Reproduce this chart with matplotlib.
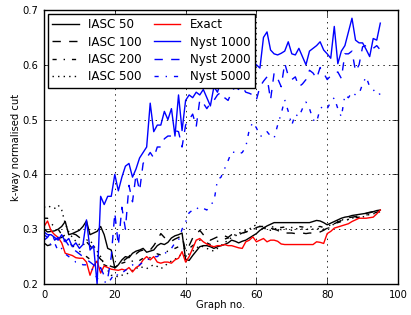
import numpy as np
import matplotlib
matplotlib.use("Agg")
import matplotlib.pyplot as plt

graph_no = list(range(96))

iasc_50 = [0.300, 0.295, 0.296, 0.297, 0.300, 0.305, 0.314, 0.290, 0.292, 0.295,
           0.298, 0.305, 0.315, 0.290, 0.293, 0.296, 0.305, 0.290, 0.265, 0.262,
           0.229, 0.235, 0.244, 0.250, 0.248, 0.256, 0.260, 0.262, 0.265, 0.258,
           0.260, 0.262, 0.270, 0.274, 0.272, 0.276, 0.284, 0.288, 0.290, 0.293,
           0.245, 0.243, 0.252, 0.260, 0.268, 0.270, 0.270, 0.268, 0.265, 0.268,
           0.270, 0.272, 0.275, 0.280, 0.278, 0.275, 0.278, 0.280, 0.284, 0.288,
           0.292, 0.298, 0.302, 0.306, 0.309, 0.312, 0.312, 0.312, 0.312, 0.312,
           0.312, 0.312, 0.312, 0.312, 0.312, 0.312, 0.314, 0.316, 0.315, 0.312,
           0.308, 0.311, 0.314, 0.317, 0.320, 0.322, 0.323, 0.325, 0.326, 0.327,
           0.328, 0.329, 0.331, 0.332, 0.334, 0.335]

iasc_100 = [0.275, 0.270, 0.272, 0.278, 0.283, 0.285, 0.290, 0.290, 0.292, 0.290,
            0.285, 0.280, 0.277, 0.270, 0.262, 0.253, 0.245, 0.240, 0.235, 0.232,
            0.230, 0.235, 0.240, 0.245, 0.250, 0.259, 0.255, 0.260, 0.262, 0.265,
            0.262, 0.270, 0.280, 0.292, 0.285, 0.280, 0.278, 0.282, 0.285, 0.288,
            0.260, 0.270, 0.284, 0.290, 0.298, 0.290, 0.282, 0.280, 0.283, 0.286,
            0.290, 0.288, 0.285, 0.290, 0.292, 0.290, 0.293, 0.295, 0.297, 0.298,
            0.303, 0.305, 0.305, 0.302, 0.302, 0.300, 0.298, 0.293, 0.293, 0.293,
            0.293, 0.292, 0.293, 0.293, 0.292, 0.293, 0.293, 0.293, 0.295, 0.298,
            0.302, 0.305, 0.310, 0.313, 0.316, 0.320, 0.321, 0.322, 0.323, 0.325,
            0.327, 0.329, 0.330, 0.332, 0.334, 0.335]

iasc_200 = [0.320, 0.320, 0.310, 0.305, 0.300, 0.290, 0.280, 0.275, 0.270, 0.265,
            0.260, 0.255, 0.250, 0.245, 0.242, 0.240, 0.238, 0.235, 0.232, 0.230,
            0.232, 0.235, 0.238, 0.240, 0.238, 0.242, 0.245, 0.243, 0.247, 0.250,
            0.248, 0.252, 0.255, 0.253, 0.257, 0.260, 0.262, 0.265, 0.268, 0.270,
            0.262, 0.265, 0.270, 0.275, 0.280, 0.278, 0.275, 0.272, 0.274, 0.278,
            0.280, 0.282, 0.284, 0.285, 0.288, 0.290, 0.292, 0.295, 0.297, 0.300,
            0.302, 0.300, 0.302, 0.305, 0.303, 0.305, 0.304, 0.303, 0.304, 0.305,
            0.303, 0.304, 0.305, 0.304, 0.303, 0.304, 0.305, 0.304, 0.305, 0.303,
            0.305, 0.308, 0.310, 0.312, 0.314, 0.316, 0.318, 0.320, 0.321, 0.322,
            0.324, 0.326, 0.327, 0.329, 0.331, 0.333]

iasc_500 = [0.340, 0.343, 0.340, 0.338, 0.344, 0.335, 0.310, 0.295, 0.285, 0.278,
            0.272, 0.270, 0.280, 0.280, 0.270, 0.260, 0.250, 0.235, 0.225, 0.216,
            0.215, 0.213, 0.216, 0.218, 0.220, 0.225, 0.228, 0.232, 0.230, 0.228,
            0.232, 0.235, 0.232, 0.228, 0.232, 0.238, 0.242, 0.245, 0.250, 0.255,
            0.250, 0.255, 0.260, 0.265, 0.270, 0.268, 0.265, 0.262, 0.260, 0.265,
            0.270, 0.275, 0.280, 0.285, 0.290, 0.293, 0.295, 0.298, 0.300, 0.305,
            0.308, 0.305, 0.302, 0.300, 0.298, 0.300, 0.302, 0.299, 0.300, 0.301,
            0.298, 0.300, 0.302, 0.300, 0.299, 0.301, 0.300, 0.302, 0.300, 0.300,
            0.300, 0.305, 0.310, 0.315, 0.318, 0.315, 0.318, 0.320, 0.322, 0.320,
            0.322, 0.325, 0.327, 0.328, 0.330, 0.332]

exact = [0.305, 0.315, 0.297, 0.290, 0.285, 0.275, 0.256, 0.254, 0.252, 0.248,
         0.247, 0.247, 0.240, 0.216, 0.233, 0.242, 0.220, 0.233, 0.230, 0.227,
         0.226, 0.225, 0.227, 0.225, 0.230, 0.222, 0.230, 0.234, 0.244, 0.250,
         0.244, 0.250, 0.240, 0.238, 0.240, 0.240, 0.238, 0.244, 0.247, 0.259,
         0.240, 0.250, 0.265, 0.280, 0.283, 0.277, 0.273, 0.270, 0.268, 0.270,
         0.270, 0.272, 0.270, 0.270, 0.268, 0.266, 0.265, 0.277, 0.280, 0.286,
         0.277, 0.280, 0.283, 0.277, 0.280, 0.280, 0.278, 0.273, 0.272, 0.272,
         0.272, 0.272, 0.272, 0.272, 0.272, 0.272, 0.272, 0.277, 0.276, 0.274,
         0.292, 0.296, 0.302, 0.304, 0.306, 0.308, 0.310, 0.314, 0.317, 0.320,
         0.320, 0.320, 0.321, 0.322, 0.328, 0.335]

nyst_1000 = [0.295, 0.290, 0.290, 0.285, 0.280, 0.290, 0.277, 0.283, 0.268, 0.275,
             0.265, 0.272, 0.317, 0.262, 0.270, 0.200, 0.360, 0.345, 0.360, 0.360,
             0.400, 0.370, 0.395, 0.415, 0.420, 0.395, 0.410, 0.430, 0.440, 0.450,
             0.530, 0.478, 0.490, 0.490, 0.515, 0.500, 0.520, 0.470, 0.545, 0.480,
             0.535, 0.545, 0.540, 0.550, 0.545, 0.555, 0.540, 0.525, 0.560, 0.550,
             0.570, 0.560, 0.580, 0.575, 0.590, 0.580, 0.600, 0.610, 0.600, 0.605,
             0.600, 0.594, 0.650, 0.660, 0.627, 0.620, 0.618, 0.621, 0.625, 0.642,
             0.620, 0.618, 0.630, 0.615, 0.600, 0.625, 0.630, 0.635, 0.642, 0.627,
             0.620, 0.612, 0.670, 0.602, 0.625, 0.635, 0.660, 0.685, 0.645, 0.640,
             0.640, 0.628, 0.615, 0.648, 0.645, 0.676]

nyst_2000 = [0.290, 0.285, 0.295, 0.280, 0.285, 0.275, 0.280, 0.270, 0.265, 0.260,
             0.255, 0.250, 0.245, 0.240, 0.235, 0.225, 0.230, 0.215, 0.210, 0.250,
             0.330, 0.270, 0.340, 0.300, 0.380, 0.350, 0.400, 0.370, 0.420, 0.430,
             0.440, 0.430, 0.450, 0.450, 0.465, 0.470, 0.470, 0.480, 0.478, 0.450,
             0.490, 0.500, 0.510, 0.487, 0.536, 0.530, 0.520, 0.530, 0.535, 0.545,
             0.550, 0.540, 0.535, 0.550, 0.560, 0.555, 0.560, 0.550, 0.548, 0.545,
             0.536, 0.560, 0.570, 0.578, 0.536, 0.585, 0.575, 0.560, 0.603, 0.580,
             0.573, 0.578, 0.560, 0.565, 0.573, 0.590, 0.585, 0.575, 0.595, 0.585,
             0.573, 0.580, 0.583, 0.587, 0.575, 0.620, 0.620, 0.625, 0.588, 0.600,
             0.633, 0.635, 0.630, 0.630, 0.635, 0.627]

nyst_5000 = [0.280, 0.285, 0.270, 0.275, 0.260, 0.265, 0.255, 0.250, 0.245, 0.240,
             0.240, 0.235, 0.235, 0.230, 0.225, 0.210, 0.208, 0.205, 0.200, 0.210,
             0.220, 0.215, 0.220, 0.225, 0.230, 0.235, 0.230, 0.235, 0.240, 0.245,
             0.245, 0.250, 0.250, 0.255, 0.255, 0.260, 0.265, 0.275, 0.280, 0.300,
             0.313, 0.330, 0.335, 0.340, 0.335, 0.338, 0.335, 0.345, 0.350, 0.390,
             0.395, 0.410, 0.425, 0.441, 0.440, 0.437, 0.440, 0.450, 0.482, 0.495,
             0.485, 0.470, 0.470, 0.478, 0.470, 0.466, 0.490, 0.511, 0.536, 0.515,
             0.490, 0.510, 0.505, 0.520, 0.532, 0.520, 0.500, 0.495, 0.520, 0.525,
             0.520, 0.532, 0.540, 0.520, 0.505, 0.545, 0.540, 0.550, 0.545, 0.547,
             0.565, 0.578, 0.560, 0.555, 0.545, 0.547]

plt.rcParams['font.family'] = ['DejaVu Sans']
plt.rcParams['lines.dashed_pattern'] = [6, 6]
plt.rcParams['lines.dashdot_pattern'] = [3, 5, 1, 5]
plt.rcParams['lines.dotted_pattern'] = [1, 3]
plt.rcParams['lines.scale_dashes'] = False

fig = plt.figure(figsize=(4.11, 3.15), dpi=100)
ax = fig.add_axes([44 / 411, 1 - 284 / 315, (398 - 44) / 411, (284 - 10) / 315])

lw = 1.0
ax.plot(graph_no, iasc_50, color='k', ls='-', lw=lw, label='IASC 50')
ax.plot(graph_no, iasc_100, color='k', ls='--', lw=lw, label='IASC 100')
ax.plot(graph_no, iasc_200, color='k', ls='-.', lw=lw, label='IASC 200')
ax.plot(graph_no, iasc_500, color='k', ls=':', lw=lw, label='IASC 500')
ax.plot(graph_no, exact, color='r', ls='-', lw=lw, label='Exact')
ax.plot(graph_no, nyst_1000, color='b', ls='-', lw=lw, label='Nyst 1000')
ax.plot(graph_no, nyst_2000, color='b', ls='--', lw=lw, label='Nyst 2000')
ax.plot(graph_no, nyst_5000, color='b', ls='-.', lw=lw, label='Nyst 5000')

ax.set_xlim(0, 100)
ax.set_ylim(0.2, 0.7)
ax.set_xticks([0, 20, 40, 60, 80, 100])
ax.set_yticks([0.2, 0.3, 0.4, 0.5, 0.6, 0.7])
ax.tick_params(direction='in', top=True, right=True, length=4, width=0.5,
               labelsize=7.2, pad=4)
ax.grid(True, color='k', ls=':', lw=0.6)
for s in ax.spines.values():
    s.set_linewidth(1.0)
ax.set_xlabel('Graph no.', fontsize=7.2, labelpad=0)
ax.set_ylabel('k-way normalised cut', fontsize=7.2, labelpad=1)

leg = ax.legend(loc='upper left', ncol=2, fontsize=8.6, fancybox=False,
                framealpha=1, edgecolor='k', handlelength=2.2,
                borderaxespad=0.3, columnspacing=1.0, labelspacing=0.35,
                handletextpad=0.8)
leg.get_frame().set_linewidth(1.0)

fig.savefig('out.png', dpi=100, facecolor='white')
